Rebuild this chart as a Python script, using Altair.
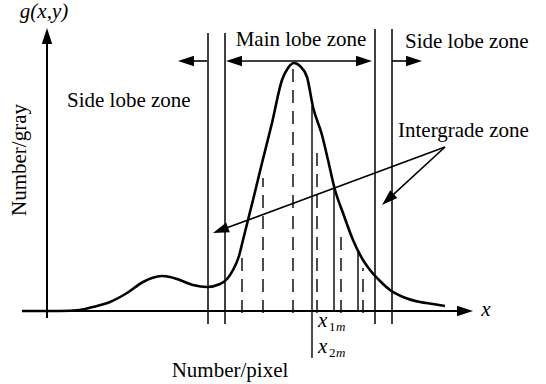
import altair as alt
import pandas as pd
import numpy as np

# ---- data (schematic units: x = pixel number, y = gray count; origin at axis crossing) ----
curve_x = [-25, 13, 33, 46, 63, 80, 96, 105, 115, 123, 130, 146, 160, 173, 180, 186, 192, 196,
           201, 206, 215, 225, 235, 241, 247, 253, 260, 266, 275, 281, 288, 296, 306, 316, 323,
           333, 343, 356, 373, 386, 398]
curve_y = [0, 0, 1, 4, 9, 18, 29, 33, 35, 34, 32, 26, 24, 27, 32, 41, 55, 71,
           91, 111, 148, 188, 231, 243, 248, 245, 234, 204, 176, 151, 121, 98, 71, 51, 41,
           30, 21, 14, 9, 7, 5]

zone_x = [161, 178, 328, 345]
zone_top = [278, 278, 282, 282]
zone_bottom = [-13, -13, -13, -13]

inner_solid_x = [265, 287, 311]
inner_solid_top = [205, 123, 59]
inner_solid_bottom = [-47, 0, 0]

dashed_x = [195, 216, 246, 270, 294, 316]
dashed_top = [56, 133, 243, 161, 79, 43]
dashed_bottom = [-2, -2, -2, -2, -2, -2]

# arrows: start -> tip
arrow_from_x = [0, -25, 160, 252, 252, 345, 398, 398]
arrow_from_y = [-7, 0, 250, 250, 250, 250, 164, 164]
arrow_tip_x = [0, 426, 131, 179, 325, 375, 166, 335]
arrow_tip_y = [283, 0, 250, 250, 250, 250, 78, 106]
arrow_width = [2, 2, 1.6, 1.6, 1.6, 1.6, 1.6, 1.6]

# text labels
left_texts = ["Side lobe zone", "Side lobe zone", "Intergrade zone"]
left_tx = [358, 20, 351]
left_ty = [263, 204, 174]

center_texts = ["Main lobe zone", "Number/pixel"]
center_tx = [254, 183]
center_ty = [265, -66]

rot_texts = ["Number/gray"]
rot_tx = [-27]
rot_ty = [151]

ital_center_texts = ["g(x,y)", "x"]
ital_center_tx = [-3, 439]
ital_center_ty = [293, -5]

ital_left_texts = ["x", "x"]
ital_left_tx = [271, 271]
ital_left_ty = [-16, -42]

sub_digit_texts = ["1", "2"]
sub_digit_tx = [282, 282]
sub_digit_ty = [-20, -46]

sub_m_texts = ["m", "m"]
sub_m_tx = [289, 289]
sub_m_ty = [-20, -46]

# ---- build ----
FONT = "Liberation Serif"
HEAD = 16

xs = alt.Scale(domain=[-47, 499], range=[0, 546], nice=False, zero=False)
ys = alt.Scale(domain=[-73, 311], range=[384, 0], nice=False, zero=False)

def X(f="x"):
    return alt.X(f + ":Q", scale=xs, axis=None)

def Y(f="y"):
    return alt.Y(f + ":Q", scale=ys, axis=None)

curve = alt.Chart(pd.DataFrame({"x": curve_x, "y": curve_y})).mark_line(
    color="black", strokeWidth=2.6, interpolate="monotone"
).encode(x=X(), y=Y(), order="x:Q")

zones = alt.Chart(pd.DataFrame({"x": zone_x, "y": zone_bottom, "y2": zone_top})).mark_rule(
    color="black", strokeWidth=1.5
).encode(x=X(), y=Y(), y2="y2:Q")

inner = alt.Chart(pd.DataFrame({"x": inner_solid_x, "y": inner_solid_bottom, "y2": inner_solid_top})).mark_rule(
    color="black", strokeWidth=1.4
).encode(x=X(), y=Y(), y2="y2:Q")

dashed = alt.Chart(pd.DataFrame({"x": dashed_x, "y": dashed_bottom, "y2": dashed_top})).mark_rule(
    color="black", strokeWidth=1.4, strokeDash=[13, 8]
).encode(x=X(), y=Y(), y2="y2:Q")

fx = np.array(arrow_from_x, float)
fy = np.array(arrow_from_y, float)
tx = np.array(arrow_tip_x, float)
ty = np.array(arrow_tip_y, float)
dx, dy = tx - fx, ty - fy
L = np.hypot(dx, dy)
ex = tx - dx / L * HEAD * 0.7
ey = ty - dy / L * HEAD * 0.7
ang = np.degrees(np.arctan2(-dy, dx)) % 360
arr_df = pd.DataFrame({"x": fx, "y": fy, "x2": ex, "y2": ey, "tx": tx, "ty": ty,
                       "ang": ang, "w": arrow_width})

shafts = alt.Chart(arr_df).mark_rule(color="black").encode(
    x=X(), y=Y(), x2="x2:Q", y2="y2:Q",
    strokeWidth=alt.StrokeWidth("w:Q", scale=None)
)

heads = alt.Chart(arr_df).mark_point(
    shape="M0,0 L-2,-0.65 L-2,0.65 Z", filled=True, color="black", opacity=1,
    size=HEAD * HEAD, strokeWidth=0
).encode(x=X("tx"), y=Y("ty"), angle=alt.Angle("ang:Q", scale=None))

def text_layer(texts, txs, tys, size, align="left", style="normal", angle=0, baseline="alphabetic"):
    kw = dict(font=FONT, fontSize=size, color="black", align=align,
              baseline=baseline, fontStyle=style)
    if angle:
        kw["angle"] = angle
    return alt.Chart(pd.DataFrame({"t": texts, "x": txs, "y": tys})).mark_text(**kw).encode(
        x=X(), y=Y(), text="t:N")

texts = [
    text_layer(left_texts, left_tx, left_ty, 21),
    text_layer(center_texts, center_tx, center_ty, 21, align="center"),
    text_layer(rot_texts, rot_tx, rot_ty, 21, align="center", angle=270, baseline="middle"),
    text_layer(ital_center_texts, ital_center_tx, ital_center_ty, 21, align="center", style="italic"),
    text_layer(ital_left_texts, ital_left_tx, ital_left_ty, 21, style="italic"),
    text_layer(sub_digit_texts, sub_digit_tx, sub_digit_ty, 13),
    text_layer(sub_m_texts, sub_m_tx, sub_m_ty, 13, style="italic"),
]

chart = alt.layer(zones, inner, dashed, shafts, heads, curve, *texts).properties(
    width=546, height=384, padding=0,
    autosize=alt.AutoSizeParams(type="none"),
    background="white"
).configure_view(stroke=None)

chart.save("out.html", embed_options={"renderer": "svg", "actions": False})
